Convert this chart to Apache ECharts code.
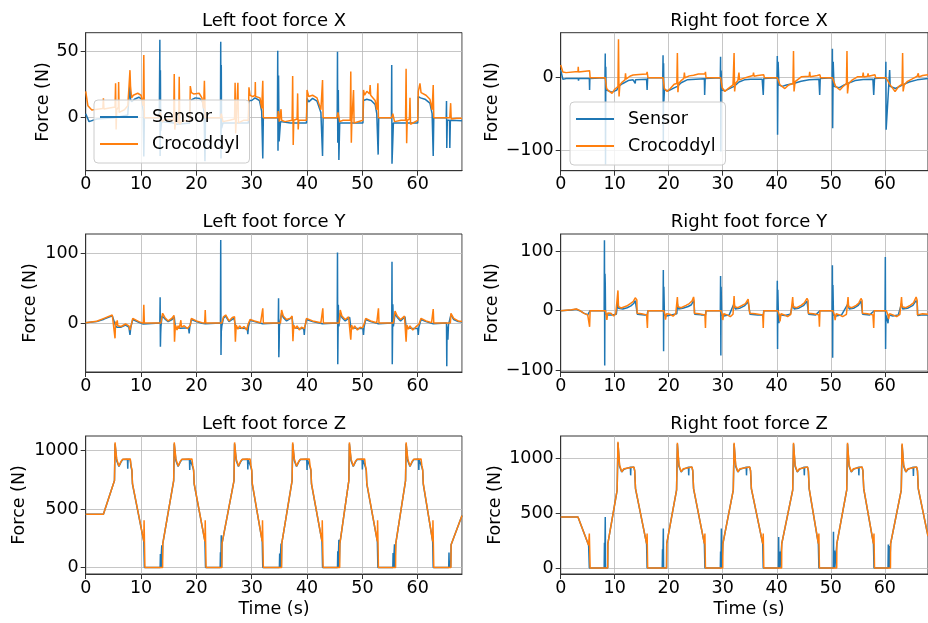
<!DOCTYPE html>
<html>
<head>
<meta charset="utf-8">
<script src="https://cdn.jsdelivr.net/npm/echarts/dist/echarts.min.js"></script>
<style>
html,body{margin:0;padding:0;background:#fff}
#chart{width:928px;height:623px}
</style>
</head>
<body>
<div id="chart"></div>
<script>
// ---- data (time s, force N) ----
var lxSens = [[0,3],[0.6,-3],[2,-1],[5.2,0],[7.6,2],[7.8,15],[8.0,25],[8.1,14],[8.3,12],[8.8,14],[9.6,15.5],[10.1,14],[10.4,5],[10.5,-29.5],[10.6,0],
 [13.3,0],[13.4,59],[13.45,-29],[13.5,36],[13.55,-10],[13.7,-3],[15.9,-4],[16.5,-5],[18.8,-4],[18.9,13],[19.2,12],[19.8,15],[20.6,14.5],[21.1,12],[21.4,4],[21.55,-33],[21.65,0],
 [24.35,0],[24.4,57.5],[24.45,-31],[24.5,40],[24.55,-8],[24.8,-4],[29.4,-4],[29.5,13],[30.0,13],[30.6,15],[31.4,13],[31.8,5],[32.0,-31],[32.1,0],
 [34.65,0],[34.7,50.7],[34.75,-25],[34.85,32],[34.95,-18],[35.1,-18],[35.2,-3],[37,-4],[39.9,-4],[40.0,14.6],[40.3,12],[41.0,14.6],[41.8,12.5],[42.5,4],[42.8,-29],[42.9,0],
 [45.45,0],[45.5,50],[45.55,-19],[45.65,21],[45.75,-32],[45.9,-4],[50.1,-4],[50.2,13],[50.8,14],[51.6,13],[52.3,10],[52.6,3],[52.85,-28],[52.95,0],
 [55.25,0],[55.3,40],[55.35,-35],[55.5,-17],[55.6,-4],[60.0,-4],[60.1,16],[60.5,15],[61.3,14],[62.2,11],[62.6,3],[62.8,-29],[62.9,0],
 [65.15,0],[65.2,12.6],[65.25,-23],[65.35,-2],[65.75,-2],[65.8,-23],[65.9,-2],[68,-2.3]];
var lxCroc = [[0,20],[0.4,9],[1.1,5.8],[3.1,7],[3.2,14.6],[3.3,6.5],[5.3,8],[5.4,26],[5.5,-9],[5.6,6],[5.9,8],[5.95,27],[6.05,4],[6.5,5],[7.0,6],[7.6,9],[7.8,22],[8.0,36],[8.1,24],[8.3,15],[8.6,17],[9.4,18.5],[10.0,17],[10.4,9],[10.5,47.5],[10.6,0],
 [13.4,0],[13.5,4],[13.8,-3],[14.5,-1],[15.9,-2],[16.0,33],[16.1,-9],[16.3,-2],[16.8,-4],[16.9,31],[17.0,-5],[17.5,-2],[18.8,-3],[18.9,24],[19.1,19],[19.5,18],[20.5,18.5],[21.0,15],[21.3,7],[21.45,28],[21.6,0],
 [24.4,0],[24.5,3],[24.8,-3],[26.0,-2],[26.9,-1],[27.0,26.5],[27.1,-12],[27.2,-2],[27.4,-3],[27.5,26.5],[27.6,-4],[28.5,-2],[29.4,-2],[29.5,23],[29.7,17],[30.2,16],[30.6,17],[30.65,27],[30.7,16],[31.5,15],[31.8,7],[32.0,28],[32.1,0],
 [34.7,0],[34.8,5],[35.0,-3],[35.3,6.4],[35.4,-2],[36.0,-3],[37.3,-2],[37.4,31.6],[37.5,-20.7],[37.6,-2],[38.2,-1],[38.3,18.4],[38.4,-9],[38.5,-2],[39.9,-2],[40.0,21],[40.3,16],[41.0,17],[41.8,15],[42.5,6],[42.8,28.5],[42.9,0],
 [45.4,0],[45.6,4],[45.9,-3],[46.5,-2],[47.8,-2],[47.9,35],[48.0,-19],[48.1,-2],[48.4,21],[48.5,-4],[50.1,-2],[50.2,21],[50.4,17],[50.8,20],[51.3,18],[51.4,24.7],[51.5,17],[52.3,13],[52.6,6],[52.8,26],[52.9,0],
 [55.3,0],[55.5,3],[55.8,-3],[57.0,-2],[57.8,-2],[57.9,37],[58.0,-19.4],[58.1,-2],[58.5,-1],[58.6,15],[58.7,-5],[60.0,-2],[60.1,19.7],[60.4,26],[60.6,19],[61.5,17],[62.2,14],[62.6,6],[62.8,24.7],[62.9,0],
 [65.8,0],[65.95,11],[66.05,-1],[67,-0.5],[68,-0.5]];

var rxSens = [[0,10.6],[0.4,-2.3],[1,-1],[3.25,-1],[3.3,-4],[3.35,-1],[5.3,-1],[5.35,-17],[5.4,-1],[5.45,0],
 [8.2,0],[8.25,33.6],[8.3,-120],[8.35,15],[8.4,-17],[9.5,-20],[10.4,-17],[10.7,-12],[11.5,-8],[12.5,-4],[13.4,-3],[13.75,-3],[13.8,-8],[13.85,-3],[15.9,-2],[16.0,-17],[16.1,0],
 [18.9,0],[18.95,31],[19.0,-90],[19.05,20],[19.1,-33],[19.2,-17],[20.0,-18],[21.0,-14],[21.6,-12],[22.3,-7],[23.4,-3],[25.0,-2],[26.6,-1.5],[26.65,-24],[26.75,-1],[26.9,0],
 [29.55,0],[29.6,29],[29.65,-102],[29.7,10],[29.8,-17],[30.5,-18],[31.5,-14],[32.1,-12],[33,-6],[34,-3],[35.2,-2.3],[37.3,-2],[37.5,-24],[37.6,-1],[37.7,0],
 [40.05,0],[40.1,30],[40.15,-79],[40.25,22],[40.4,-10],[41.0,-12],[41.8,-10],[43.1,-8],[44.5,-5],[46,-3],[47.8,-2],[47.95,-24],[48.05,-1],[48.1,0],
 [50.25,0],[50.3,40],[50.35,-70],[50.45,22],[50.6,-12],[51.5,-14],[52.5,-10],[53.1,-8],[54.5,-4],[56,-2.5],[57.8,-2],[57.95,-24],[58.1,-1],[58.3,0],
 [60.15,0],[60.2,22],[60.25,-72],[60.9,10.6],[61.0,-12],[62,-15],[63.3,-10],[64.5,-6],[66,-3],[68,-1]];
var rxCroc = [[0,17.5],[0.4,8],[1,7],[3.2,8.5],[3.25,15],[3.3,8],[5.35,9.7],[5.45,0],
 [8.25,0],[8.5,-15],[9.0,-19],[9.5,-21.7],[10.0,-16],[10.6,-12.4],[10.7,53],[10.8,-26],[10.95,-10],[11.4,-6],[11.9,-3],[12.0,6],[12.1,-2],[12.8,2],[13.4,3.7],[14.5,4.5],[15.9,5],[16.0,8],[16.15,0],
 [18.95,0],[19.2,-15],[19.7,-19],[20.3,-15],[21.0,-9],[21.5,-8],[21.6,34],[21.7,-20],[21.85,-8],[22.3,-4],[22.8,-1],[22.9,7],[23.0,0],[23.8,2.5],[24.6,3.5],[25.5,5],[26.7,5],[26.8,8],[26.9,0],
 [29.6,0],[29.9,-14],[30.4,-19],[31.0,-15],[31.9,-10],[32.0,-10],[32.1,34],[32.2,-19],[32.35,-8],[32.8,-4],[33.0,7],[33.1,-3],[33.8,-1],[34.8,1.4],[35.6,3],[35.7,7],[35.8,2],[36.5,3],[37.2,3.7],[37.6,4],[37.7,0],
 [40.1,0],[40.6,-10],[41.5,-15],[42.2,-10],[43.0,-8],[43.1,37],[43.2,-19],[43.4,-5.5],[44.0,-2],[44.6,1.4],[46.0,2],[46.1,8],[46.2,1.4],[47.5,3],[48.0,4],[48.1,0],
 [50.3,0],[50.9,-12],[51.7,-17],[52.3,-12],[52.9,-8],[53.0,37],[53.1,-21.7],[53.3,-8],[54.0,-3],[55.0,1.4],[55.9,1.4],[56.0,7],[56.1,1],[56.8,2],[56.9,6],[57.0,2],[58.2,4],[58.3,0],
 [60.2,0],[61.0,-10],[61.9,-19],[62.6,-12],[63.2,-9],[63.3,34],[63.4,-19],[63.6,-10],[64.2,-5],[65.0,-2],[66.0,2],[66.2,6],[66.3,1],[67,3],[68,4]];

var lySens = [[0,0.5],[2,2],[3.3,5.5],[4.8,10.5],[5.15,12.5],[5.35,-3],[5.6,-6],[6.4,-6],[7.2,-3],[7.8,-6],[8.0,-17],[8.15,-6],[8.5,5],[9.6,1],[10.4,-1.5],[10.6,0],
 [13.4,0],[13.45,37],[13.5,-34],[13.55,-15],[13.6,-5],[13.8,10],[14.3,6],[14.9,2],[15.6,5],[16.0,9],[16.2,-6],[17,-7.7],[18,-7],[18.6,-8],[18.7,-15],[18.8,-6],[19.1,5],[20,2],[21.0,-0.5],[21.6,-1],[21.7,0],
 [24.35,0],[24.4,119],[24.45,-46],[24.5,-12],[24.6,-4],[24.9,7],[25.3,10],[25.9,2],[26.8,7],[27.1,-6],[28,-7.7],[29.2,-8],[29.3,-16],[29.4,-6],[29.7,4],[30.5,2],[32.0,-1],[32.1,0],
 [34.8,0],[34.85,35.4],[34.9,-49],[34.95,-34],[35.0,-5],[35.4,14],[35.7,8],[36.3,3],[37.3,8],[37.5,-6],[38.5,-8],[39.4,-8],[39.5,-17],[39.6,-6],[39.9,5],[41,2],[42.8,-1],[42.9,0],
 [45.45,0],[45.5,101],[45.55,-59],[45.65,26],[45.75,-5],[46.0,14],[46.3,8],[46.9,3],[47.7,8],[47.9,-6],[49,-8],[50.1,-8],[50.2,-17],[50.3,-6],[50.6,5],[51.5,2],[52.9,-1],[53.0,0],
 [55.3,0],[55.35,88],[55.4,-59],[55.5,27],[55.6,-5],[55.9,13],[56.3,8],[56.9,3],[57.7,9],[57.9,-6],[59,-8],[60.0,-8],[60.1,-17],[60.2,-6],[60.6,5],[61.5,2],[62.8,-1],[62.9,0],
 [65.2,0],[65.25,-62],[65.3,-5],[65.45,-24],[65.55,-3],[66.0,12],[66.5,5],[67.3,2],[68,1.5]];
var lyCroc = [[0,0.5],[2,2.5],[3.3,6.7],[4.8,11.5],[5.15,14],[5.3,-22],[5.4,2],[5.6,-3],[5.7,4],[5.8,-4],[6.4,-5],[7.2,-1.4],[7.8,-4],[8.0,-10],[8.2,-4],[8.5,6.7],[9.6,2],[10.4,-0.5],[10.5,26],[10.6,0],
 [13.6,0],[13.7,6],[13.9,14],[14.3,8],[14.9,3],[15.6,7],[15.95,11],[16.05,-27],[16.2,-3],[16.5,-10],[16.7,-4],[16.9,-8],[17.2,4],[17.3,-6],[17.8,-4],[18.4,-8],[18.7,-10],[18.9,-3],[19.1,6.7],[20.0,3],[21.0,0.5],[21.5,0],[21.6,18.7],[21.7,0],
 [24.6,0],[24.9,9],[25.3,11.5],[25.9,3],[26.5,8],[26.9,9],[27.05,-27],[27.2,-3],[27.5,-9],[27.8,-4],[28.2,-8],[28.6,-5],[29.1,-10],[29.3,-3],[29.7,5],[30.5,3],[31.6,0.5],[31.9,0],[32.0,21],[32.1,0],
 [35.2,0],[35.4,18.7],[35.7,10],[36.3,5],[37.0,7],[37.3,10],[37.45,-26],[37.6,-3],[37.9,-8],[38.2,-4],[38.6,-10],[39.0,-6],[39.5,-8],[39.7,-2],[39.9,6.7],[41.0,3],[42.5,0.5],[42.75,0],[42.85,21],[42.95,0],
 [45.8,0],[46.0,18.7],[46.3,10],[46.9,5],[47.5,9],[47.75,10],[47.9,-24],[48.05,-3],[48.3,-9],[48.6,-4],[49.1,-10],[49.6,-6],[50.0,-7],[50.3,-2],[50.6,6.7],[51.5,3],[52.6,0.5],[52.8,0],[52.9,21],[53.0,0],
 [55.6,0],[55.9,17],[56.3,10],[56.9,5],[57.6,10],[57.8,11.5],[57.9,-27],[58.05,-3],[58.3,-9],[58.6,-4],[59.1,-10],[59.6,-6],[59.9,-8],[60.2,-2],[60.6,6.7],[61.5,3],[62.5,0.5],[62.7,0],[62.8,20],[62.9,0],
 [65.9,0],[66.0,14],[66.5,6.7],[67.3,3],[68,2]];

var rySens = [[0,0],[2,1],[2.9,2.5],[3.5,0],[4.3,-4],[5.0,-7],[5.35,-9],[5.45,0],
 [8.05,0],[8.1,118],[8.15,-92],[8.2,62],[8.25,45],[8.3,-5],[8.7,-7],[9.5,-7],[10.3,-6],[10.6,18],[10.7,4],[11.5,3],[12.3,5],[13.0,8],[13.5,12],[13.8,17],[14.1,15],[14.2,-6],[15.5,-7],[16.0,-7],[16.15,0],
 [18.95,0],[19.0,68],[19.05,-68],[19.1,40],[19.2,-7],[19.6,-9],[20.5,-7],[21.5,-5],[21.6,12],[21.8,3],[22.6,4],[23.6,7],[24.2,10],[24.6,17],[24.7,13],[24.8,-6],[26,-7],[26.8,-7],[26.9,0],
 [29.55,0],[29.6,58],[29.65,-75],[29.7,40],[29.8,-7],[30.2,-9],[31.2,-7],[32.1,12],[32.3,3],[33.1,4],[34,8],[34.7,15],[34.95,12],[35.05,-6],[36.5,-7],[37.5,-7],[37.6,0],
 [40.05,0],[40.1,50],[40.15,-64],[40.2,35],[40.3,-6],[40.4,-21],[40.5,-7],[41.5,-8],[42.5,-6],[43.0,12],[43.2,3],[44,4],[45,9],[45.6,16],[45.8,13],[45.9,-6],[47.2,-7],[48.0,0],
 [50.25,0],[50.3,76],[50.35,-79],[50.4,43],[50.5,-7],[51,-9],[52,-7],[53.2,12],[53.4,3],[54.2,4],[55.1,9],[55.6,16],[55.8,13],[55.9,-6],[57.2,-7],[58.05,0],
 [60.05,0],[60.1,90],[60.15,-64],[60.2,-7],[60.6,-21],[60.7,-7],[61.5,-9],[62.5,-7],[63.1,12],[63.3,3],[64.2,4],[65.2,9],[65.8,17],[66.0,13],[66.1,-8],[67,-7],[68,-7]];
var ryCroc = [[0,0],[2,1.5],[2.9,2.8],[3.5,0.5],[4.3,-4.4],[5.0,-7],[5.3,-9],[5.35,-27],[5.45,0],
 [8.3,0],[8.55,-15.6],[8.7,-4],[9.3,-4.4],[9.8,-9],[10.2,-5],[10.55,-8],[10.6,34],[10.7,6.7],[11.2,4.5],[12.2,7.8],[12.9,12],[13.4,15],[13.8,21.7],[14.1,18],[14.15,-4.4],[15.0,-5],[15.9,-7],[16.05,-29],[16.15,0],
 [19.1,0],[19.3,-7],[19.4,-15],[19.6,-5],[20.2,-6],[20.8,-9],[21.3,-5],[21.55,-7],[21.6,23],[21.7,6.7],[22.3,5],[23.2,9],[23.8,12],[24.3,16],[24.6,23],[24.7,17],[24.75,-4.4],[25.6,-5],[26.7,-7],[26.8,-29],[26.9,0],
 [29.7,0],[29.9,-7],[30.0,-15.6],[30.2,-5],[30.8,-7],[31.4,-10],[31.9,-6],[32.05,-7],[32.1,24.4],[32.2,6.7],[32.8,5],[33.6,9],[34.2,12],[34.7,19.4],[34.95,17],[35.0,-4.4],[36.0,-5],[37.4,-7],[37.5,-29],[37.6,0],
 [40.2,0],[40.5,-8],[40.6,-18],[40.8,-5],[41.4,-7],[42.0,-10],[42.6,-6],[42.9,-7],[42.95,23],[43.05,6.7],[43.7,5],[44.5,9],[45.1,13],[45.6,20.5],[45.8,17],[45.85,-4.4],[46.8,-5],[47.8,-7],[47.9,-27],[48.0,0],
 [50.4,0],[50.7,-8],[50.8,-16],[51.0,-5],[51.6,-7],[52.2,-10],[52.9,-6],[53.15,-7],[53.2,23],[53.3,6.7],[53.9,5],[54.7,9],[55.2,13],[55.6,20.5],[55.8,17],[55.85,-4.4],[56.8,-5],[57.8,-7],[57.95,-29],[58.05,0],
 [60.3,0],[60.6,-8],[60.7,-14],[60.9,-5],[61.5,-7],[62.2,-10],[62.8,-6],[63.05,-7],[63.1,23],[63.2,6.7],[63.9,5],[64.7,9],[65.3,13],[65.8,23],[66.0,17],[66.05,-7],[67,-5],[68,-6]];

var lzSens = [[0,457],[3.2,457],[5.2,745],[5.3,1060],[5.6,915],[6.0,866],[6.4,905],[6.7,925],[7.55,926],[7.6,845],[7.65,925],[8.05,925],[8.2,860],[8.35,830],[8.45,715],[10.5,225],[10.6,0],
 [13.45,0],[13.5,115],[13.55,0],[13.7,0],[13.75,191],[13.8,0],[13.9,0],[13.93,205],[15.9,745],[16.0,1060],[16.3,915],[16.7,866],[17.1,905],[17.4,925],[18.75,926],[18.8,835],[18.85,925],[19.2,925],[19.35,860],[19.5,830],[19.6,715],[21.55,225],[21.65,0],
 [24.3,0],[24.35,130],[24.4,0],[24.45,0],[24.5,277],[24.55,0],[24.6,0],[24.63,205],[26.8,745],[26.9,1060],[27.2,915],[27.6,866],[28.0,905],[28.3,925],[29.25,926],[29.3,840],[29.35,925],[29.7,925],[29.85,860],[30.0,830],[30.1,715],[31.9,225],[32.0,0],
 [35.0,0],[35.05,120],[35.1,0],[35.25,0],[35.3,205],[35.35,0],[35.4,0],[35.43,205],[37.3,745],[37.4,1060],[37.7,915],[38.1,866],[38.5,905],[38.8,925],[39.95,926],[40.0,835],[40.05,925],[40.4,925],[40.55,860],[40.7,830],[40.8,715],[42.7,225],[42.8,0],
 [45.5,0],[45.55,140],[45.6,0],[45.7,0],[45.75,237],[45.8,0],[45.9,0],[45.93,205],[47.55,745],[47.65,1060],[47.95,915],[48.35,866],[48.75,905],[49.05,925],[49.95,926],[50.0,840],[50.05,925],[50.4,925],[50.55,860],[50.7,830],[50.8,715],[52.7,225],[52.8,0],
 [55.5,0],[55.55,125],[55.6,0],[55.75,0],[55.8,200],[55.85,0],[56.0,0],[56.03,205],[57.8,745],[57.9,1060],[58.2,915],[58.6,866],[59.0,905],[59.3,925],[60.15,926],[60.2,835],[60.25,925],[60.6,925],[60.75,860],[60.9,830],[61.0,715],[62.7,225],[62.8,0],
 [65.6,0],[65.65,128],[65.7,0],[65.85,0],[65.9,60],[65.95,0],[66.0,0],[66.03,195],[68,445]];
var lzCroc = [[0,457],[3.2,457],[5.2,745],[5.3,1071],[5.6,930],[6.0,868],[6.4,910],[6.7,928],[8.05,930],[8.2,870],[8.35,840],[8.45,720],[10.5,225],[10.55,405],[10.7,0],
 [13.9,0],[13.93,205],[15.9,745],[16.0,1071],[16.3,930],[16.7,868],[17.1,910],[17.4,928],[19.2,930],[19.35,870],[19.5,840],[19.6,720],[21.55,225],[21.6,405],[21.75,0],
 [24.6,0],[24.63,205],[26.8,745],[26.9,1071],[27.2,930],[27.6,868],[28.0,910],[28.3,928],[29.7,930],[29.85,870],[30.0,840],[30.1,720],[31.9,225],[31.95,405],[32.1,0],
 [35.4,0],[35.43,205],[37.3,745],[37.4,1071],[37.7,930],[38.1,868],[38.5,910],[38.8,928],[40.4,930],[40.55,870],[40.7,840],[40.8,720],[42.7,225],[42.75,405],[42.9,0],
 [45.9,0],[45.93,205],[47.55,745],[47.65,1071],[47.95,930],[48.35,868],[48.75,910],[49.05,928],[50.4,930],[50.55,870],[50.7,840],[50.8,720],[52.7,225],[52.75,405],[52.9,0],
 [56.0,0],[56.03,205],[57.8,745],[57.9,1071],[58.2,930],[58.6,868],[59.0,910],[59.3,928],[60.6,930],[60.75,870],[60.9,840],[61.0,720],[62.7,225],[62.75,405],[62.9,0],
 [66.0,0],[66.03,195],[68,445]];

var rzSens = [[0,466],[3.2,466],[5.17,207],[5.3,0],
 [8.05,0],[8.1,230],[8.15,0],[8.2,0],[8.25,466],[8.3,0],[8.7,0],[8.73,223],[10.45,710],[10.6,1140],[10.9,925],[11.3,875],[11.7,900],[12.0,918],[12.9,920],[12.95,845],[13.0,918],[13.55,918],[13.7,885],[13.85,722],[15.9,223],[16.0,0],
 [18.8,0],[18.85,170],[18.9,0],[18.95,0],[19.0,360],[19.05,0],[19.6,0],[19.63,223],[21.45,710],[21.6,1130],[21.9,925],[22.3,875],[22.7,900],[23.0,918],[23.65,920],[23.7,845],[23.75,918],[24.3,918],[24.45,885],[24.6,722],[26.6,223],[26.7,0],
 [29.55,0],[29.6,150],[29.65,0],[29.7,0],[29.75,360],[29.8,0],[30.0,0],[30.03,223],[31.95,710],[32.1,1130],[32.4,925],[32.8,875],[33.2,900],[33.5,918],[34.35,920],[34.4,845],[34.45,918],[35.0,918],[35.15,885],[35.3,722],[37.4,223],[37.5,0],
 [40.3,0],[40.35,283],[40.4,0],[40.5,0],[40.55,150],[40.6,0],[40.9,0],[40.93,223],[42.95,710],[43.1,1130],[43.4,925],[43.8,875],[44.2,900],[44.5,918],[45.05,920],[45.1,845],[45.15,918],[45.7,918],[45.85,885],[46.0,722],[47.7,223],[47.8,0],
 [50.45,0],[50.5,330],[50.55,0],[50.65,0],[50.7,160],[50.75,0],[51.1,0],[51.13,223],[52.95,710],[53.1,1130],[53.4,925],[53.8,875],[54.2,900],[54.5,918],[55.15,920],[55.2,845],[55.25,918],[55.8,918],[55.95,885],[56.1,722],[57.9,223],[58.0,0],
 [60.6,0],[60.65,215],[60.7,0],[60.8,0],[60.85,200],[60.9,0],[61.05,0],[61.08,223],[63.05,710],[63.2,1125],[63.5,925],[63.9,875],[64.3,900],[64.6,918],[65.25,920],[65.3,840],[65.35,918],[65.9,918],[66.05,885],[66.2,722],[68,290]];
var rzCroc = [[0,466],[3.2,466],[5.17,207],[5.3,314],[5.45,0],
 [8.7,0],[8.73,223],[10.45,710],[10.6,1152],[10.9,940],[11.3,878],[11.7,905],[12.0,922],[13.55,922],[13.7,890],[13.85,726],[15.9,223],[16.0,314],[16.1,0],
 [19.6,0],[19.63,223],[21.45,710],[21.6,1143],[21.9,940],[22.3,878],[22.7,905],[23.0,922],[24.3,922],[24.45,890],[24.6,726],[26.6,223],[26.7,314],[26.8,0],
 [30.0,0],[30.03,223],[31.95,710],[32.1,1143],[32.4,940],[32.8,878],[33.2,905],[33.5,922],[35.0,922],[35.15,890],[35.3,726],[37.4,223],[37.5,314],[37.6,0],
 [40.9,0],[40.93,223],[42.95,710],[43.1,1143],[43.4,940],[43.8,878],[44.2,905],[44.5,922],[45.7,922],[45.85,890],[46.0,726],[47.7,223],[47.8,314],[47.9,0],
 [51.1,0],[51.13,223],[52.95,710],[53.1,1143],[53.4,940],[53.8,878],[54.2,905],[54.5,922],[55.8,922],[55.95,890],[56.1,726],[57.9,223],[58.0,314],[58.1,0],
 [61.05,0],[61.08,223],[63.05,710],[63.2,1136],[63.5,940],[63.9,878],[64.3,905],[64.6,922],[65.9,922],[66.05,890],[66.2,726],[68,290]];

var titles = ['Left foot force X','Right foot force X','Left foot force Y','Right foot force Y','Left foot force Z','Right foot force Z'];
var yTicks = [[0,50],[-100,0],[0,100],[-100,0,100],[0,500,1000],[0,500,1000]];
var yLimits = [[-40.2,64.4],[-128.6,62.2],[-70.3,127.7],[-102.7,128.5],[-55,1126],[-55,1204]];

var FONT = 'DejaVu Sans';
var FS = 17.5;
var FS_TITLE = 18;
var BLUE = '#1f77b4', ORANGE = '#ff7f0e';

var chart = echarts.init(document.getElementById('chart'), null, {renderer:'canvas'});

// panel placement
var colLeft = [85.7, 560.7];
var rowTop = [32.7, 234, 436];
var grids = [], xAxes = [], yAxes = [], series = [];
var pairs = [[lxSens,lxCroc],[rxSens,rxCroc],[lySens,lyCroc],[rySens,ryCroc],[lzSens,lzCroc],[rzSens,rzCroc]];

function minus(v){ return String(v).replace('-', '\u2212'); }

for (var i = 0; i < 6; i++) {
  grids.push({left: colLeft[i % 2], top: rowTop[Math.floor(i / 2)], width: 376.3, height: 138,
    show: true, borderColor: '#333', borderWidth: 1, backgroundColor: 'transparent'});
  xAxes.push({type: 'value', gridIndex: i, min: 0, max: 68, interval: 10,
    axisLine: {show: true, onZero: false, lineStyle: {color: '#333', width: 1}},
    axisTick: {show: true, length: 5, lineStyle: {color: '#333'}},
    axisLabel: {margin: 5, color: '#000', fontFamily: FONT, fontSize: FS, showMaxLabel: false},
    splitLine: {show: true, lineStyle: {color: '#b8b8b8', width: 0.8}}});
  yAxes.push({type: 'value', gridIndex: i, min: yLimits[i][0], max: yLimits[i][1],
    axisLine: {show: true, onZero: false, lineStyle: {color: '#333', width: 1}},
    axisTick: {show: true, length: 5, customValues: yTicks[i], lineStyle: {color: '#333'}},
    axisLabel: {customValues: yTicks[i], margin: 7, color: '#000', fontFamily: FONT, fontSize: FS, formatter: minus},
    splitLine: {show: true, lineStyle: {color: '#b8b8b8', width: 0.8}}});
  series.push({name: 'Sensor', type: 'line', xAxisIndex: i, yAxisIndex: i, data: pairs[i][0],
    symbol: 'none', showSymbol: false, z: 2, lineStyle: {color: BLUE, width: 1.5}, itemStyle: {color: BLUE}});
  series.push({name: 'Crocoddyl', type: 'line', xAxisIndex: i, yAxisIndex: i, data: pairs[i][1],
    symbol: 'none', showSymbol: false, z: 3, lineStyle: {color: ORANGE, width: 1.5}, itemStyle: {color: ORANGE}});
}

function legendAt(left, top) {
  return {data: ['Sensor','Crocoddyl'], orient: 'vertical', left: left, top: top, icon: 'rect',
    itemWidth: 38, itemHeight: 2, itemGap: 7, padding: [7, 10, 9, 6], selectedMode: false,
    backgroundColor: 'rgba(255,255,255,0.8)', borderColor: '#cccccc', borderWidth: 1, borderRadius: 4,
    textStyle: {fontFamily: FONT, fontSize: FS, color: '#000', lineHeight: 20, padding: [0, 0, 0, 9]}};
}

function txt(x, y, s, size, rot) {
  return {type: 'text', x: x, y: y, rotation: rot || 0, z: 10,
    style: {text: s, fill: '#000', font: size + 'px "' + FONT + '"', align: 'center', verticalAlign: 'middle',
      textAlign: 'center', textVerticalAlign: 'middle'}};
}

var graphic = [];
var titlePos = [[274,21.5],[749,21.5],[274,222.5],[749,222.5],[274,424],[749,424]];
var ylabPos = [[43,102],[492,102],[30,303],[492,303],[19.5,505],[495,505]];
for (var k = 0; k < 6; k++) {
  graphic.push(txt(titlePos[k][0], titlePos[k][1], titles[k], FS_TITLE));
  graphic.push(txt(ylabPos[k][0], ylabPos[k][1], 'Force (N)', FS, Math.PI / 2));
}
graphic.push(txt(274, 609, 'Time (s)', FS));
graphic.push(txt(749, 609, 'Time (s)', FS));

chart.setOption({
  animation: false,
  backgroundColor: '#fff',
  grid: grids,
  xAxis: xAxes,
  yAxis: yAxes,
  legend: [legendAt(94, 100), legendAt(570, 102)],
  graphic: graphic,
  series: series
});
</script>
</body>
</html>
